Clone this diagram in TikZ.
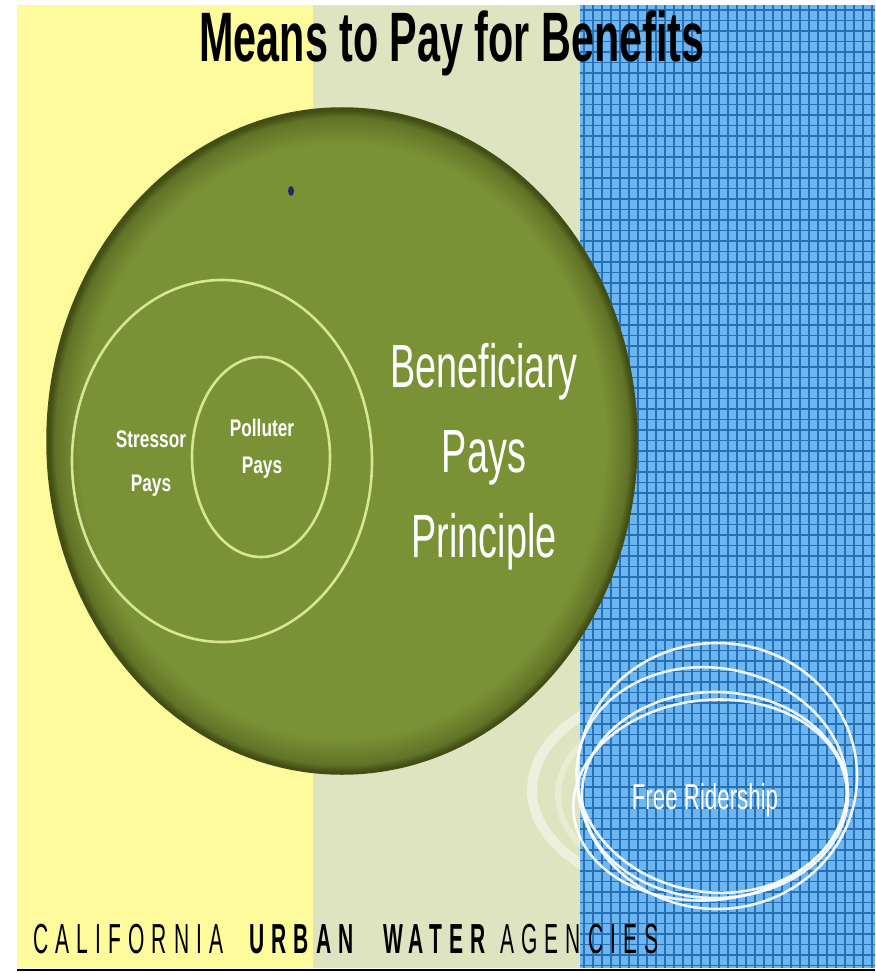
\documentclass[tikz,border=0pt]{standalone}
\usepackage{fontspec}
\setmainfont{Liberation Sans}
\newfontfamily\narrowsans[FakeStretch=0.62]{Liberation Sans}
\newfontfamily\labelsans[FakeStretch=0.72]{Liberation Sans}
\newfontfamily\titlesans[FakeStretch=0.59]{Liberation Sans}
\newfontfamily\spacedsans[FakeStretch=0.5,LetterSpace=17]{Liberation Sans}

\definecolor{lemon}{RGB}{253,251,156}
\definecolor{sage}{RGB}{222,228,192}
\definecolor{skyblue}{RGB}{108,182,242}
\definecolor{gridblue}{RGB}{40,112,182}
\definecolor{olivemid}{RGB}{122,146,54}
\definecolor{olivedark}{RGB}{66,78,20}
\colorlet{oliverim}{olivedark!45!olivemid}
\definecolor{ringline}{RGB}{214,230,150}
\definecolor{dotnavy}{RGB}{40,40,105}

% the disc edge sits at 25bp once tikz fits the shading to the path
\pgfdeclareradialshading{olivedisc}{\pgfpoint{0bp}{0bp}}{%
  color(0bp)=(olivemid); color(22.3bp)=(olivemid);
  color(24.3bp)=(oliverim); color(24.85bp)=(olivedark); color(50bp)=(olivedark)}

\begin{document}
\begin{tikzpicture}[
    x=1pt, y=-1pt,
    gridline/.style={
        draw=gridblue,
        line width=1.3pt
    },
    ring/.style={
        draw=ringline,
        line width=2.6pt
    },
    lasso/.style={
        draw=white,
        line width=2.6pt,
        opacity=0.9
    },
    smalllabel/.style={
        text=white,
        inner sep=0pt,
        align=center
    },
    biglabel/.style={
        text=white,
        inner sep=0pt,
        align=center,
        font=\narrowsans\fontsize{61}{85}\selectfont
    },
    footer/.style={
        anchor=base west,
        inner sep=0pt,
        font=\spacedsans\fontsize{42}{42}\selectfont
    },
    footerbold/.style={
        footer,
        font=\spacedsans\bfseries\fontsize{42}{42}\selectfont
    }
]

\useasboundingbox (0,0) rectangle (875,973);

% Background panels
\fill[white] (0,0) rectangle (875,973);
\fill[lemon] (17,5) rectangle (313,968);
\fill[sage] (313,5) rectangle (580,968);
\fill[skyblue] (580,5) rectangle (875,968);
\foreach \gx in {584,593,...,875}
    \draw[gridline] (\gx,5) -- (\gx,968);
\foreach \gy in {10,20.5,...,968}
    \draw[gridline] (580,\gy) -- (875,\gy);
\draw[black, line width=2pt] (17,970) -- (875,970);

% Title
\node[anchor=base, inner sep=0pt, font=\titlesans\bfseries\fontsize{70}{70}\selectfont] (title) at (452,62) {Means to Pay for Benefits};

% Big disc and inner rings
\path[shading=olivedisc] (342,441) ellipse [x radius=295pt, y radius=333pt];
\draw[olivedark, line width=1.5pt] (342,441) ellipse [x radius=295pt, y radius=333pt];
\draw[ring] (222,461) ellipse [x radius=150pt, y radius=181pt];
\draw[ring] (261,457) ellipse [x radius=69pt, y radius=100pt];
\fill[dotnavy] (291,191) ellipse [x radius=3pt, y radius=5pt];

% Labels
\node[smalllabel, font=\labelsans\bfseries\fontsize{24}{44}\selectfont] (stressor) at (151,464) {Stressor\\Pays};
\node[smalllabel, font=\labelsans\bfseries\fontsize{24}{37}\selectfont] (polluter) at (262,449) {Polluter\\Pays};
\node[biglabel] (benef) at (484,457) {Beneficiary\\Pays\\Principle};

% Free ridership loops, with a soft glow on the pale panel
\begin{scope}
    \clip (313,600) rectangle (580,968);
    \draw[white, opacity=0.45, line width=10pt] (700,790) ellipse [x radius=168pt, y radius=105pt];
    \draw[white, opacity=0.3, line width=6pt] (708,795) ellipse [x radius=150pt, y radius=95pt];
\end{scope}
\draw[lasso] (717,776) ellipse [x radius=140pt, y radius=133pt];
\draw[lasso, rotate around={-10:(712,780)}] (712,780) ellipse [x radius=136pt, y radius=112pt];
\draw[lasso] (715,795) ellipse [x radius=133pt, y radius=103pt];
\draw[lasso, rotate around={6:(710,800)}] (710,800) ellipse [x radius=137pt, y radius=100pt];
\node[text=white, inner sep=0pt, font=\narrowsans\fontsize{36}{36}\selectfont] (freeride) at (705,800) {Free Ridership};

% Footer
\node[footer] (calif) at (33,953) {CALIFORNIA};
\node[footerbold] (urban) at (249,953) {URBAN};
\node[footerbold] (water) at (383,953) {WATER};
\node[footer] (agencies) at (500,953) {AGENCIES};

\end{tikzpicture}
\end{document}
